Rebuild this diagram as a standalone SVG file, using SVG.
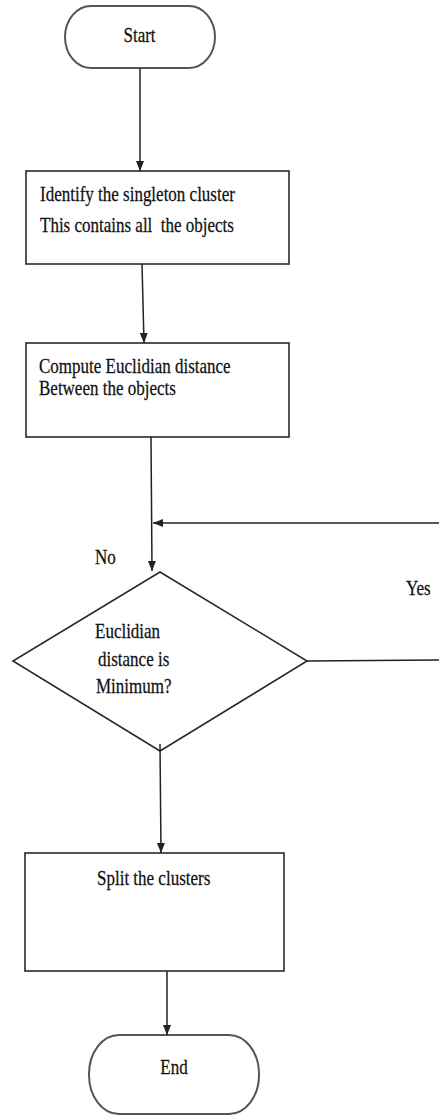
<svg xmlns="http://www.w3.org/2000/svg" width="439" height="1116" viewBox="0 0 439 1116">
<style>
.shape{fill:#fff;stroke:#2a2a2a;stroke-width:1.6}
.term{fill:#fff;stroke:#555;stroke-width:2}
.conn{fill:none;stroke:#222;stroke-width:1.5}
.t{font-family:'Liberation Serif','DejaVu Serif',serif;font-size:17px;fill:#111;stroke:#111;stroke-width:0.2}
</style>
<defs>
<marker id="arr" markerUnits="userSpaceOnUse" markerWidth="10" markerHeight="10" refX="10" refY="4" orient="auto">
<path d="M0,0 L10,4 L0,8 z" fill="#222"/>
</marker>
</defs>
<g id="start">
<rect class="term" x="65" y="6" width="150" height="62" rx="26" ry="31"/>
<text class="t" transform="translate(139.5,42) scale(1,1.25)" text-anchor="middle">Start</text>
</g>
<g id="identify">
<rect class="shape" x="26" y="171" width="263" height="93"/>
<text class="t" transform="translate(40,201) scale(1,1.25)">Identify the singleton cluster</text>
<text class="t" transform="translate(40,232) scale(1,1.25)" xml:space="preserve">This contains all  the objects</text>
</g>
<g id="compute">
<rect class="shape" x="26" y="343" width="263" height="94"/>
<text class="t" transform="translate(39,373) scale(1,1.25)">Compute Euclidian distance</text>
<text class="t" transform="translate(39,395) scale(1,1.25)">Between the objects</text>
</g>
<g id="decision">
<polygon class="shape" points="160,572 307,661 160,751 13,661"/>
<text class="t" transform="translate(95,638) scale(1,1.25)">Euclidian</text>
<text class="t" transform="translate(98,666) scale(1,1.25)">distance is</text>
<text class="t" transform="translate(96,693) scale(1,1.25)">Minimum?</text>
</g>
<g id="split">
<rect class="shape" x="25" y="853" width="259" height="118"/>
<text class="t" transform="translate(97,885) scale(1,1.25)">Split the clusters</text>
</g>
<g id="end">
<rect class="term" x="89" y="1035" width="170" height="79" rx="30" ry="39"/>
<text class="t" transform="translate(174,1074) scale(1,1.25)" text-anchor="middle">End</text>
</g>
<g id="connectors">
<line class="conn" x1="140" y1="68" x2="140" y2="171" marker-end="url(#arr)"/>
<line class="conn" x1="142" y1="264" x2="144" y2="343" marker-end="url(#arr)"/>
<line class="conn" x1="151" y1="437" x2="152" y2="571" marker-end="url(#arr)"/>
<path class="conn" d="M307,661 L442,660 L442,523 L153,523" marker-end="url(#arr)"/>
<line class="conn" x1="160" y1="744" x2="161" y2="853" marker-end="url(#arr)"/>
<line class="conn" x1="167" y1="971" x2="167" y2="1035" marker-end="url(#arr)"/>
<text class="t" transform="translate(95,564) scale(1,1.25)">No</text>
<text class="t" transform="translate(406,595) scale(1,1.25)">Yes</text>
</g>
</svg>
